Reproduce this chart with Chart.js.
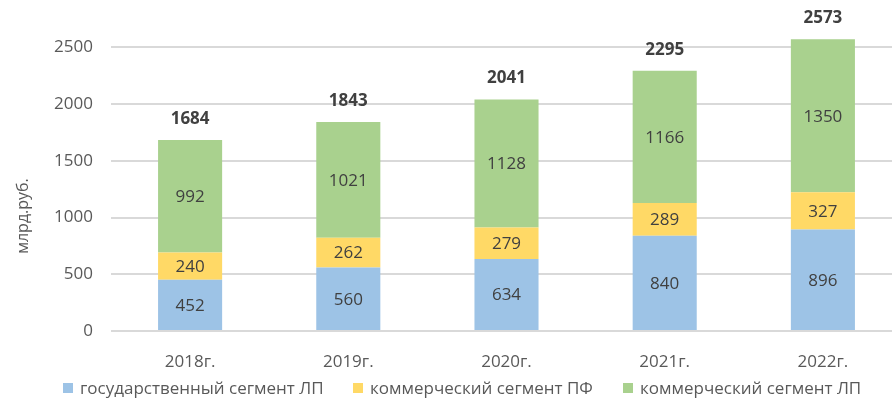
<!DOCTYPE html>
<html>
<head>
<meta charset="utf-8">
<script src="https://cdn.jsdelivr.net/npm/chart.js@4/dist/chart.umd.min.js"></script>
<style>
html,body{margin:0;padding:0;background:#fff;overflow:hidden;width:892px;height:403px;}
#wrap{position:absolute;left:0;top:0;width:910px;height:403px;}
</style>
</head>
<body>
<div id="wrap"><canvas id="c" width="910" height="403"></canvas></div>
<script>
const categories = ['2018г.', '2019г.', '2020г.', '2021г.', '2022г.'];
const govLP = [452, 560, 634, 840, 896];
const comPF = [240, 262, 279, 289, 327];
const comLP = [992, 1021, 1128, 1166, 1350];
const totals = [1684, 1843, 2041, 2295, 2573];
const seriesNames = ['государственный сегмент ЛП', 'коммерческий сегмент ПФ', 'коммерческий сегмент ЛП'];
const yTicks = [0, 500, 1000, 1500, 2000, 2500];
const yTitle = 'млрд.руб.';

const FONT = "'Open Sans', 'Noto Sans', sans-serif";
const colors = ['#9DC3E6', '#FFD966', '#A9D18E'];
const legendX = [63, 353, 623];

const labelsPlugin = {
  id: 'labelsPlugin',
  afterDatasetsDraw(chart) {
    const ctx = chart.ctx;
    ctx.save();
    ctx.textAlign = 'center';
    ctx.textBaseline = 'middle';
    ctx.font = '17px ' + FONT;
    ctx.fillStyle = '#404040';
    chart.data.datasets.forEach((ds, di) => {
      const meta = chart.getDatasetMeta(di);
      meta.data.forEach((bar, i) => {
        const y = (bar.y + bar.base) / 2;
        ctx.fillText(String(ds.data[i]), bar.x, y + 1);
      });
    });
    const last = chart.getDatasetMeta(chart.data.datasets.length - 1);
    ctx.font = 'bold 17px ' + FONT;
    last.data.forEach((bar, i) => {
      ctx.fillText(String(totals[i]), bar.x, bar.y - 21);
    });
    // y title
    ctx.save();
    ctx.font = '16px ' + FONT;
    ctx.fillStyle = '#595959';
    ctx.translate(23, chart.chartArea.bottom - 115);
    ctx.rotate(-Math.PI / 2);
    ctx.fillText(yTitle, 0, 0);
    ctx.restore();
    // legend
    ctx.font = '17px ' + FONT;
    ctx.textAlign = 'left';
    const box = 10, gapBox = 7;
    const ly = 388;
    seriesNames.forEach((n, i) => {
      const x = legendX[i];
      ctx.fillStyle = colors[i];
      ctx.fillRect(x, ly - box / 2, box, box);
      ctx.fillStyle = '#595959';
      ctx.fillText(n, x + box + gapBox, ly + 1);
    });
    ctx.restore();
  }
};

new Chart(document.getElementById('c'), {
  type: 'bar',
  data: {
    labels: categories,
    datasets: [
      { label: seriesNames[0], data: govLP, backgroundColor: colors[0] },
      { label: seriesNames[1], data: comPF, backgroundColor: colors[1] },
      { label: seriesNames[2], data: comLP, backgroundColor: colors[2] }
    ]
  },
  options: {
    responsive: false,
    animation: false,
    devicePixelRatio: 1,
    layout: { padding: { top: 0, right: 8, bottom: 32, left: 0 } },
    datasets: { bar: { categoryPercentage: 1, barPercentage: 0.405 } },
    plugins: { legend: { display: false }, tooltip: { enabled: false } },
    scales: {
      x: {
        stacked: true,
        grid: { display: false },
        border: { display: false },
        ticks: { color: '#595959', font: { family: FONT, size: 17 }, padding: 13 },
        afterFit(s) { s.height = 40; }
      },
      y: {
        stacked: true,
        min: 0,
        max: 2670,
        grid: { color: '#D9D9D9', lineWidth: 2, drawTicks: false },
        border: { display: false },
        ticks: { stepSize: 500, color: '#595959', font: { family: FONT, size: 17 }, padding: 18,
                 callback: v => String(v) },
        afterBuildTicks(s) { s.ticks = yTicks.map(v => ({ value: v })); },
        afterFit(s) { s.width = 111; }
      }
    }
  },
  plugins: [labelsPlugin]
});
</script>
</body>
</html>
